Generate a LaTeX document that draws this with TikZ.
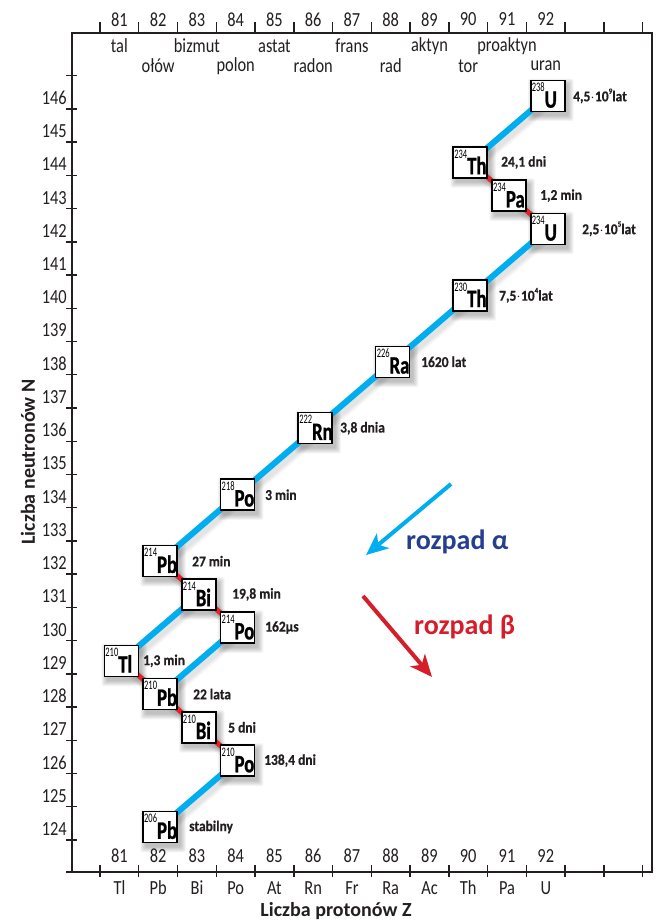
\documentclass[tikz,border=0pt]{standalone}
\usepackage{fontspec}
\setmainfont{Carlito}
\newfontfamily\axf[FakeStretch=0.82]{Carlito}
\newfontfamily\symf[FakeStretch=0.75,BoldFeatures={FakeBold=1}]{Carlito}
\newfontfamily\massf[FakeStretch=0.65]{Carlito}
\newfontfamily\lblf[FakeStretch=0.9,BoldFeatures={FakeBold=0.5}]{Carlito}
\usetikzlibrary{arrows.meta,calc}
\definecolor{acyan}{RGB}{0,174,239}
\definecolor{bred}{RGB}{232,33,39}
\definecolor{navyb}{RGB}{38,62,143}
\definecolor{lred}{RGB}{214,30,42}
\definecolor{frm}{RGB}{35,31,32}
\pgfdeclarelayer{bgl}
\pgfdeclarelayer{shl}
\pgfdeclarelayer{lnl}
\pgfsetlayers{bgl,shl,lnl,main}
\newcommand\ZX[1]{121.4+(#1-81)*38.76}
\newcommand\NY[1]{827-(#1-124)*33.23}
\newcommand\nuc[7]{%
  \node[nucbox] (#1) at ({\ZX{#2}},{\NY{#3}}) {};
  \node[anchor=base west,inner sep=0pt,xshift=1.6pt,yshift=4.5pt] (#1s) at (#1.south west)
     {\raisebox{16pt}{\fontsize{13}{13}\massf #4}\fontsize{25}{25}\symf\bfseries #5};
  \node[lbl] (#1t) at (#6,{\NY{#3}}) {#7};
  \begin{pgfonlayer}{shl}
  \foreach \i in {0,...,5}{
    \fill[black,opacity=0.045,rounded corners=2pt]
      ([xshift=(3-\i)*1pt,yshift=(-4-\i)*1pt]#1.south west) rectangle
      ([xshift=(3+\i)*1pt,yshift=(-4+\i)*1pt]#1.north east);
  }
  \end{pgfonlayer}
}
\newcommand\ex[1]{\raisebox{.5em}{\fontsize{8}{8}\selectfont #1}}
\newcommand\md{\kern.3pt$\cdot$\kern.3pt}
\newcommand\dline[3]{%
  \begin{pgfonlayer}{shl}
  \foreach \w in {7,10,13}{
    \draw[black,opacity=0.035,line width=\w pt] ([xshift=3pt,yshift=-4pt]#2.center) -- ([xshift=3pt,yshift=-4pt]#3.center);
  }
  \end{pgfonlayer}
  \begin{pgfonlayer}{lnl}
  \draw[#1] (#2.center) -- (#3.center);
  \end{pgfonlayer}
}
\begin{document}
\begin{tikzpicture}[x=1pt,y=-1pt,
  nucbox/.style={draw=black,line width=1.5pt,fill=white,minimum width=34pt,minimum height=31pt,inner sep=0pt},
  lbl/.style={anchor=west,inner sep=0pt,font=\fontsize{15}{16}\lblf\bfseries,text=frm},
  axl/.style={inner sep=0pt,font=\fontsize{20}{20}\axf,text=frm},
  frame/.style={draw=frm,line width=2pt},
  tck/.style={draw=frm,line width=1.4pt},
  alpha/.style={draw=acyan,line width=6pt},
  beta/.style={draw=bred,line width=5pt}]
\useasboundingbox (0,0) rectangle (660,922);
\begin{pgfonlayer}{bgl}
\fill[white] (0,0) rectangle (660,922);
\end{pgfonlayer}
% frame and axes
\draw[frame] (66,871.5) -- (652,871.5) -- (652,33) -- (72,33) -- (72,871.5);
\foreach \k in {0,...,14}{
  \draw[tck] ({100+\k*38.76},22) -- ({100+\k*38.76},33);
  \draw[tck] ({100+\k*38.76},865) -- ({100+\k*38.76},877);
}
\foreach \k in {0,...,23}{
  \draw[tck] (66,{840-\k*33.23}) -- (77,{840-\k*33.23});
}
\foreach \z in {81,...,92}{
  \node[axl] (top\z) at ({119.4+(\z-81)*38.76},19.5) {\z};
  \node[axl] (bot\z) at ({119.4+(\z-81)*38.76},856) {\z};
}
\foreach \n in {124,...,146}{
  \node[axl,anchor=east] (lft\n) at (67,{\NY{\n}+2}) {\n};
}
\foreach \z/\nm/\yy in {81/tal/46,82/ołów/66,83/bizmut/46,84/polon/66,85/astat/46,86/radon/66,87/frans/46,88/rad/66,89/aktyn/46,90/tor/66,91/proaktyn/46,92/uran/66}{
  \node[axl] (el\z) at ({119.4+(\z-81)*38.76},\yy) {\nm};
}
\foreach \z/\s in {81/Tl,82/Pb,83/Bi,84/Po,85/At,86/Rn,87/Fr,88/Ra,89/Ac,90/Th,91/Pa,92/U}{
  \node[axl] (sy\z) at ({119.4+(\z-81)*38.76},888) {\s};
}
\node[font=\fontsize{20}{20}\selectfont\bfseries,text=frm] (xlab) at (336,911) {Liczba protonów Z};
\node[font=\fontsize{20}{20}\selectfont\bfseries,text=frm,rotate=90] (ylab) at (28,462) {Liczba neutronów N};
% nuclides
\nuc{Ua}{92}{146}{238}{U}{573}{4,5\md10\ex{9}lat}
\nuc{Tha}{90}{144}{234}{Th}{501}{24,1 dni}
\nuc{Pa}{91}{143}{234}{Pa}{540}{1,2 min}
\nuc{Ub}{92}{142}{234}{U}{582}{2,5\md10\ex{5}lat}
\nuc{Thb}{90}{140}{230}{Th}{499}{7,5\md10\ex{4}lat}
\nuc{Ra}{88}{138}{226}{Ra}{421}{1620 lat}
\nuc{Rn}{86}{136}{222}{Rn}{340}{3,8 dnia}
\nuc{Poa}{84}{134}{218}{Po}{265}{3 min}
\nuc{Pba}{82}{132}{214}{Pb}{192}{27 min}
\nuc{Bia}{83}{131}{214}{Bi}{232}{19,8 min}
\nuc{Pob}{84}{130}{214}{Po}{265}{162µs}
\nuc{Tl}{81}{129}{210}{Tl}{143}{1,3 min}
\nuc{Pbb}{82}{128}{210}{Pb}{193}{22 lata}
\nuc{Bib}{83}{127}{210}{Bi}{228}{5 dni}
\nuc{Poc}{84}{126}{210}{Po}{264}{138,4 dni}
\nuc{Pbc}{82}{124}{206}{Pb}{189}{stabilny}
% decay lines
\dline{alpha}{Ua}{Tha}
\dline{alpha}{Ub}{Thb}
\dline{alpha}{Thb}{Ra}
\dline{alpha}{Ra}{Rn}
\dline{alpha}{Rn}{Poa}
\dline{alpha}{Poa}{Pba}
\dline{alpha}{Bia}{Tl}
\dline{alpha}{Pob}{Pbb}
\dline{alpha}{Poc}{Pbc}
\dline{beta}{Tha}{Pa}
\dline{beta}{Pa}{Ub}
\dline{beta}{Pba}{Bia}
\dline{beta}{Bia}{Pob}
\dline{beta}{Tl}{Pbb}
\dline{beta}{Pbb}{Bib}
\dline{beta}{Bib}{Poc}
% legend
\coordinate (aA) at (451,484);
\coordinate (aB) at (366,555);
\coordinate (bA) at (363,596);
\coordinate (bB) at (432,677);
\draw[acyan,line width=4pt,-{Stealth[length=22pt,width=19pt,inset=6pt]}] (aA) -- (aB);
\draw[lred,line width=4pt,-{Stealth[length=22pt,width=19pt,inset=6pt]}] (bA) -- (bB);
\node[anchor=west,inner sep=0pt,text=navyb,font=\fontsize{28}{28}\selectfont\bfseries] (la) at (406,542) {rozpad α};
\node[anchor=west,inner sep=0pt,text=lred,font=\fontsize{28}{28}\selectfont\bfseries] (lb) at (414,627) {rozpad β};
\end{tikzpicture}
\end{document}
